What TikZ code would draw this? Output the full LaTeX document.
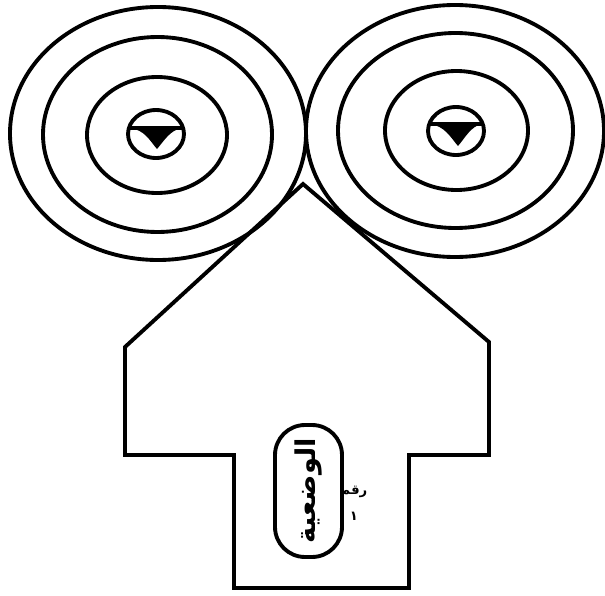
\documentclass[tikz,border=0pt]{standalone}
\usepackage{fontspec}
\newfontfamily\arabicfont[Script=Arabic]{DejaVu Sans}
\TeXXeTstate=1
\usetikzlibrary{positioning}

\begin{document}
\begin{tikzpicture}[
    x=0.02cm,
    y=-0.02cm,
    line width=2.2pt,
    ring/.style={draw, line width=2.2pt},
    pupil/.style={fill=black},
    capsule/.style={
        draw,
        line width=2.2pt,
        rounded corners=0.6cm,
        minimum width=2.64cm,
        minimum height=1.34cm,
        inner sep=0pt,
        font=\arabicfont\bfseries\fontsize{15.5}{18}\selectfont,
    },
    note/.style={
        inner sep=0pt,
        font=\arabicfont\bfseries\fontsize{7.5}{8}\selectfont,
    },
]
\useasboundingbox (0,0) rectangle (605,595);

% --- Left rings ---
\draw[ring] (158,133.5) ellipse [x radius=148, y radius=126.5];
\draw[ring] (157.5,134.5) ellipse [x radius=114.5, y radius=97.5];
\draw[ring] (157,135) ellipse [x radius=70, y radius=58];
\draw[ring] (156,134) ellipse [x radius=28, y radius=24];
\fill[pupil] (130,128) .. controls (145,130) and (150,141) .. (157,149)
    .. controls (164,141) and (170,130) .. (182,128) -- cycle;
\draw (129,128) -- (183,128);

% --- Right rings ---
\draw[ring] (455,131) ellipse [x radius=149, y radius=126];
\draw[ring] (455.5,130.5) ellipse [x radius=117.5, y radius=97.5];
\draw[ring] (456.5,130.5) ellipse [x radius=71.5, y radius=59.5];
\draw[ring] (456,131) ellipse [x radius=28, y radius=24];
\fill[pupil] (430,124) .. controls (445,126) and (451,138) .. (458,146)
    .. controls (465,138) and (471,126) .. (482,124) -- cycle;
\draw (429,124) -- (483,124);

% --- Arrow outline ---
\draw[line join=miter] (303,184) -- (489,342) -- (489,455) -- (409,455)
    -- (409,588) -- (234,588) -- (234,455) -- (125,455) -- (125,347) -- cycle;

% --- Label ---
\node[capsule, rotate=90] (wad) at (308.5,491) {\beginR الوضعية\endR};
\node[note] (num) at (354,492) {\beginR رقم\endR};
\node[note, below=6pt of num] (numval) {١};

\end{tikzpicture}
\end{document}
